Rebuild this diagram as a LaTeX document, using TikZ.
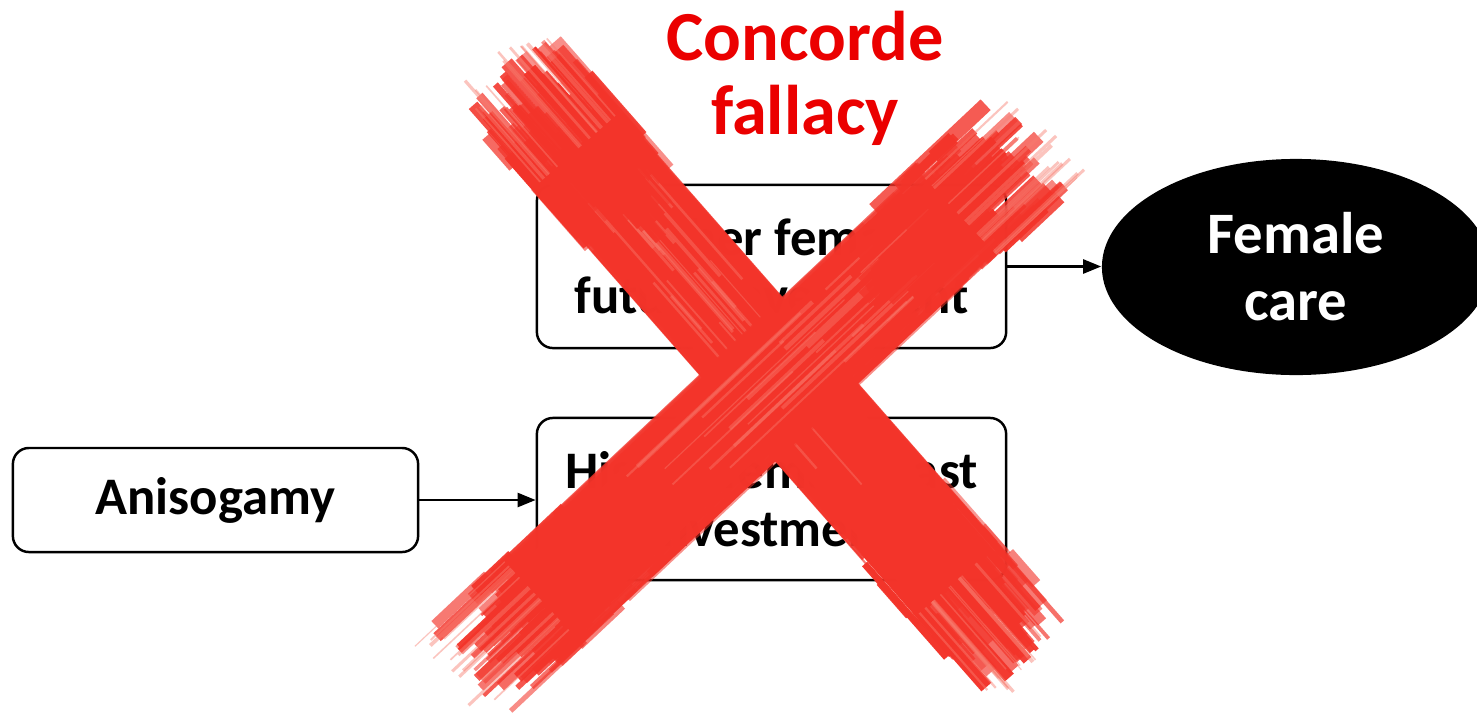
\documentclass[tikz,border=0pt]{standalone}
\usepackage{fontspec}
\setmainfont{Carlito}
\usetikzlibrary{shapes.geometric,arrows.meta}
\definecolor{brushred}{RGB}{243,52,42}
\definecolor{brushlight}{RGB}{248,125,112}
\definecolor{titlered}{RGB}{235,0,0}
\tikzset{
  flowbox/.style={draw=black, line width=0.7pt, rounded corners=0.16cm, fill=white,
    align=center, inner sep=0pt, font=\bfseries\fontsize{15}{16.5}\selectfont},
  careoval/.style={ellipse, fill=black, text=white, align=center, inner sep=0pt,
    font=\bfseries\fontsize{16.7}{19}\selectfont},
  flowarrow/.style={-{Triangle[length=0.18cm,width=0.14cm]}, line width=0.7pt},
  headline/.style={text=titlered, align=center, inner sep=0pt,
    font=\bfseries\fontsize{20}{21}\selectfont}
}
% Ragged end of a brush stroke: tip at (#1,#2), inward unit direction (#3,#4)
\newcommand\brushend[4]{%
  \foreach \k in {1,...,85}{%
    \pgfmathsetmacro\bs{60*rand}%
    \pgfmathsetmacro\bta{6+110*rnd+0.2*abs(\bs)}%
    \pgfmathsetmacro\btb{130+120*rnd-0.8*abs(\bs)}%
    \pgfmathsetmacro\bw{0.8+3.6*rnd}%
    \pgfmathsetmacro\bo{0.5+0.5*rnd}%
    \pgfmathsetmacro\pax{(#1)+(\bta)*(#3)-(\bs)*(#4)}%
    \pgfmathsetmacro\pay{(#2)+(\bta)*(#4)+(\bs)*(#3)}%
    \pgfmathsetmacro\pbx{(#1)+(max(\btb,\bta+20))*(#3)-(\bs)*(#4)}%
    \pgfmathsetmacro\pby{(#2)+(max(\btb,\bta+20))*(#4)+(\bs)*(#3)}%
    \draw[brushred, line width=\bw pt, opacity=\bo] (\pax,\pay) -- (\pbx,\pby);
  }
  \foreach \k in {1,...,14}{%
    \pgfmathsetmacro\bs{58*rand}%
    \pgfmathsetmacro\bta{-6+30*rnd}%
    \pgfmathsetmacro\bw{0.3+0.8*rnd}%
    \pgfmathsetmacro\pax{(#1)+(\bta)*(#3)-(\bs)*(#4)}%
    \pgfmathsetmacro\pay{(#2)+(\bta)*(#4)+(\bs)*(#3)}%
    \pgfmathsetmacro\pbx{(#1)+120*(#3)-(\bs)*(#4)}%
    \pgfmathsetmacro\pby{(#2)+120*(#4)+(\bs)*(#3)}%
    \draw[brushlight, line width=\bw pt, opacity=0.45] (\pax,\pay) -- (\pbx,\pby);
  }
}
% One painted stroke from tip (#1,#2) to tip (#3,#4)
\newcommand\brushstroke[4]{%
  \pgfmathsetmacro\bdx{(#3)-(#1)}%
  \pgfmathsetmacro\bdy{(#4)-(#2)}%
  \pgfmathsetmacro\blen{veclen(\bdx,\bdy)}%
  \pgfmathsetmacro\bux{(\bdx)/(\blen)}%
  \pgfmathsetmacro\buy{(\bdy)/(\blen)}%
  \pgfmathsetmacro\bvx{-(\bux)}%
  \pgfmathsetmacro\bvy{-(\buy)}%
  \draw[brushred, line width=0.86cm]
    ({(#1)+118*(\bux)},{(#2)+118*(\buy)}) -- ({(#3)-118*(\bux)},{(#4)-118*(\buy)});
  % feathered long edges
  \foreach \k in {1,...,46}{%
    \pgfmathsetmacro\bs{(40+16*rnd)*(2*int(2*rnd)-1)}%
    \pgfmathsetmacro\bta{90+140*rnd}%
    \pgfmathsetmacro\btb{(\blen)-90-140*rnd}%
    \pgfmathsetmacro\bw{0.4+2*rnd}%
    \pgfmathsetmacro\bo{0.3+0.6*rnd}%
    \pgfmathsetmacro\pax{(#1)+(\bta)*(\bux)-(\bs)*(\buy)}%
    \pgfmathsetmacro\pay{(#2)+(\bta)*(\buy)+(\bs)*(\bux)}%
    \pgfmathsetmacro\pbx{(#1)+(\btb)*(\bux)-(\bs)*(\buy)}%
    \pgfmathsetmacro\pby{(#2)+(\btb)*(\buy)+(\bs)*(\bux)}%
    \draw[brushred, line width=\bw pt, opacity=\bo] (\pax,\pay) -- (\pbx,\pby);
  }
  % paler streaks inside the paint
  \foreach \k in {1,...,22}{%
    \pgfmathsetmacro\bs{40*rand}%
    \pgfmathsetmacro\bta{100+250*rnd}%
    \pgfmathsetmacro\btb{(\bta)+60+200*rnd}%
    \pgfmathsetmacro\bw{0.3+1*rnd}%
    \pgfmathsetmacro\pax{(#1)+(\bta)*(\bux)-(\bs)*(\buy)}%
    \pgfmathsetmacro\pay{(#2)+(\bta)*(\buy)+(\bs)*(\bux)}%
    \pgfmathsetmacro\pbx{(#1)+(\btb)*(\bux)-(\bs)*(\buy)}%
    \pgfmathsetmacro\pby{(#2)+(\btb)*(\buy)+(\bs)*(\bux)}%
    \draw[brushlight, line width=\bw pt, opacity=0.4] (\pax,\pay) -- (\pbx,\pby);
  }
  \brushend{#1}{#2}{\bux}{\buy}%
  \brushend{#3}{#4}{\bvx}{\bvy}%
}
\begin{document}
\begin{tikzpicture}[x=0.01cm,y=-0.01cm]
\useasboundingbox (0,0) rectangle (1477,715);
\fill[white] (0,0) rectangle (1477,715);

% flow of the argument
\node[flowbox, minimum width=4.05cm, minimum height=1.04cm] (aniso) at (215.5,500) {Anisogamy};
\node[flowbox, minimum width=4.69cm, minimum height=1.63cm] (future) at (771.5,266.5)
  {Higher female\\future investment};
\node[flowbox, minimum width=4.69cm, minimum height=1.62cm] (past) at (771.5,499)
  {Higher female past\\investment};
\begin{scope}
  \clip (0,0) rectangle (1477,715);
  \node[careoval, minimum width=3.88cm, minimum height=2.16cm] (care) at (1296,267)
    {Female\\care};
\end{scope}

\draw[flowarrow] (aniso.east) -- (aniso.east -| past.west);
\draw[flowarrow] (future.east) -- (future.east -| care.west);

% the crossing-out
\pgfmathsetseed{11}
\brushstroke{497}{60}{1034}{672}
\brushstroke{1044}{130}{455}{684}

\node[headline] (title) at (805,78) {Concorde\\fallacy};
\end{tikzpicture}
\end{document}
